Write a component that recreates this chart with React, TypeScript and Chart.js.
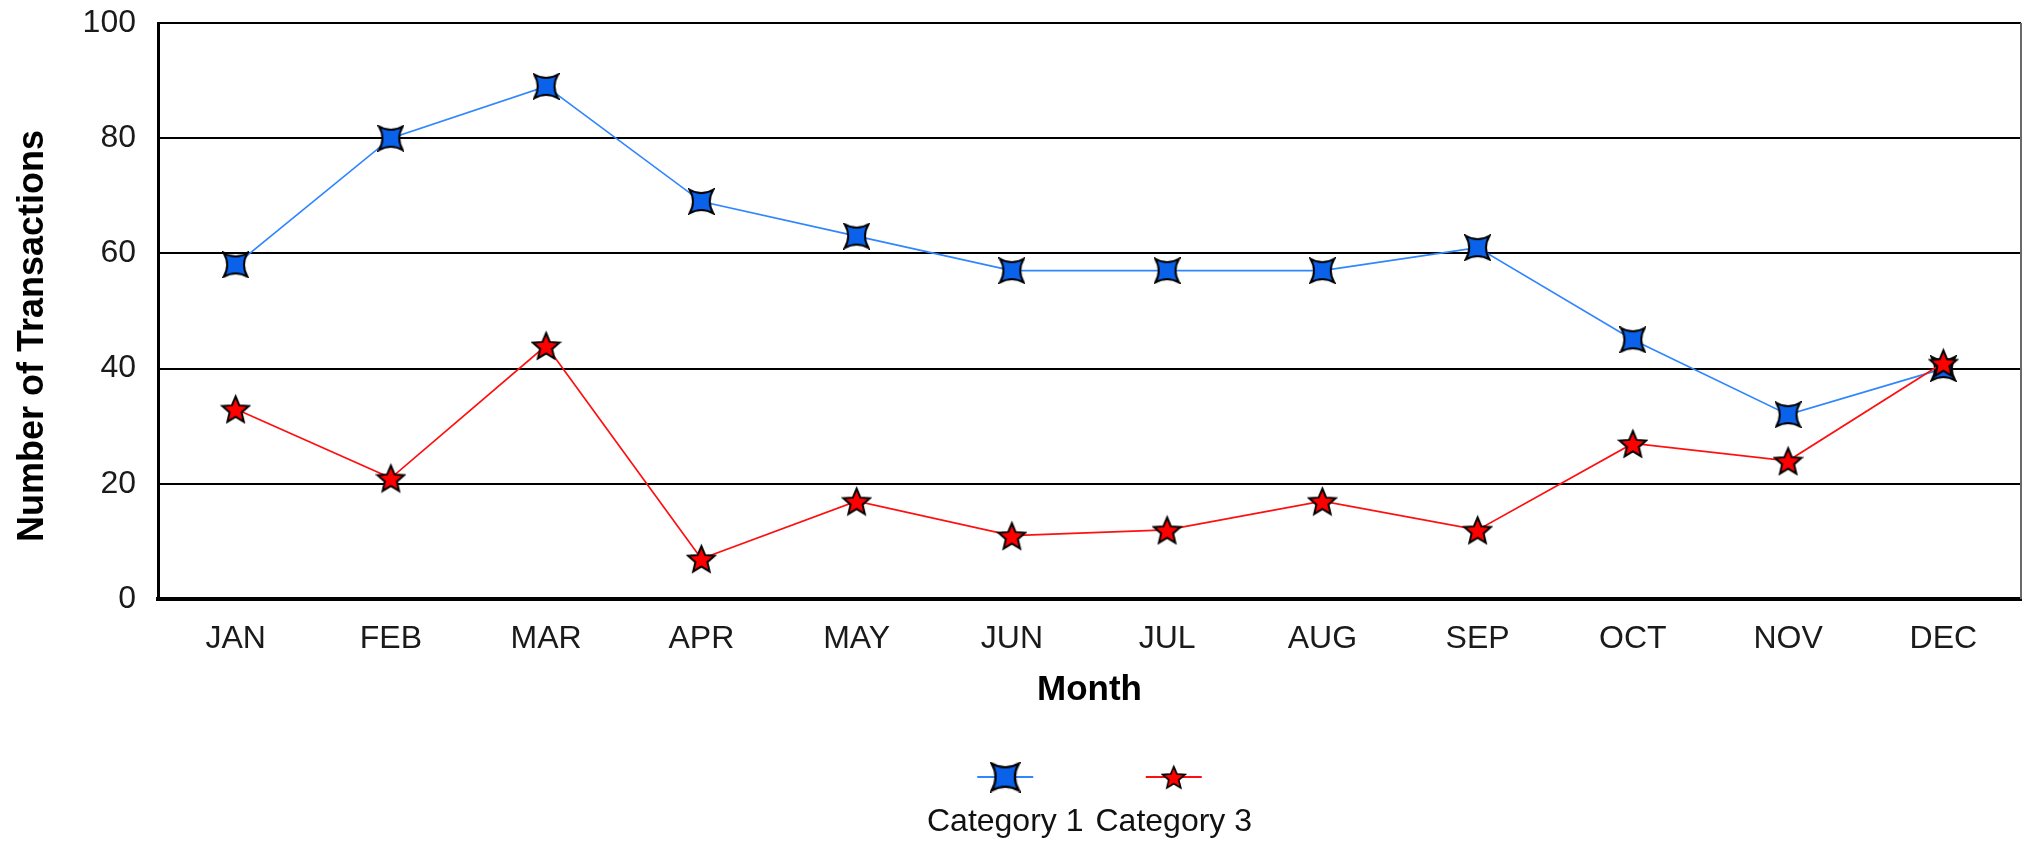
import React, { useEffect, useRef } from "react";
import { Chart, registerables } from "chart.js";

Chart.register(...registerables);

const months = ["JAN", "FEB", "MAR", "APR", "MAY", "JUN", "JUL", "AUG", "SEP", "OCT", "NOV", "DEC"];
const category1 = [58, 80, 89, 69, 63, 57, 57, 57, 61, 45, 32, 40];
const category3 = [33, 21, 44, 7, 17, 11, 12, 17, 12, 27, 24, 41];
const seriesNames = ["Category 1", "Category 3"];
const xTitle = "Month";
const yTitle = "Number of Transactions";
const yMin = 0;
const yMax = 100;
const yStep = 20;

const FONT = "'Liberation Sans', Arial, sans-serif";

function makeStar4(size: number, fill: string): HTMLCanvasElement {
  const c = document.createElement("canvas");
  c.width = size;
  c.height = size;
  const ctx = c.getContext("2d")!;
  const m = size / 2;
  const r = size / 2 - 1.5;
  const ri = r * 0.4;
  ctx.beginPath();
  ctx.moveTo(m - r, m - r);
  ctx.quadraticCurveTo(m, m - ri, m + r, m - r);
  ctx.quadraticCurveTo(m + ri, m, m + r, m + r);
  ctx.quadraticCurveTo(m, m + ri, m - r, m + r);
  ctx.quadraticCurveTo(m - ri, m, m - r, m - r);
  ctx.closePath();
  ctx.fillStyle = fill;
  ctx.fill();
  ctx.lineWidth = 2;
  ctx.strokeStyle = "#000";
  ctx.lineJoin = "miter";
  ctx.stroke();
  return c;
}

function makeStar5(size: number, fill: string): HTMLCanvasElement {
  const c = document.createElement("canvas");
  c.width = size;
  c.height = size;
  const ctx = c.getContext("2d")!;
  const m = size / 2;
  const R = size / 2 - 1.5;
  const ri = R * 0.45;
  ctx.beginPath();
  for (let i = 0; i < 10; i++) {
    const a = -Math.PI / 2 + (i * Math.PI) / 5;
    const rad = i % 2 === 0 ? R : ri;
    const x = m + rad * Math.cos(a);
    const y = m + 1.5 + rad * Math.sin(a);
    if (i === 0) ctx.moveTo(x, y);
    else ctx.lineTo(x, y);
  }
  ctx.closePath();
  ctx.fillStyle = fill;
  ctx.fill();
  ctx.lineWidth = 2;
  ctx.strokeStyle = "#000";
  ctx.stroke();
  return c;
}

const customPlugin = {
  id: "customDecor",
  beforeDatasetsDraw(chart: any) {
    const { ctx, chartArea } = chart;
    ctx.save();
    ctx.strokeStyle = "#6a6a6a";
    ctx.lineWidth = 2;
    ctx.beginPath();
    ctx.moveTo(chartArea.right, chartArea.top);
    ctx.lineTo(chartArea.right, chartArea.bottom);
    ctx.stroke();
    ctx.restore();
  },
  afterDraw(chart: any) {
    const { ctx, chartArea } = chart;
    ctx.save();
    // y axis title
    ctx.font = `bold 36px ${FONT}`;
    ctx.fillStyle = "#000";
    ctx.textAlign = "center";
    ctx.textBaseline = "alphabetic";
    ctx.translate(43, 336);
    ctx.rotate(-Math.PI / 2);
    ctx.fillText(yTitle, 0, 0);
    ctx.restore();

    // legend
    ctx.save();
    const ds = chart.data.datasets;
    ctx.font = `32px ${FONT}`;
    const widths = ds.map((d: any) => ctx.measureText(d.label).width);
    const gap = 12;
    const total = widths.reduce((a: number, b: number) => a + b, 0) + gap * (ds.length - 1);
    const cx = (chartArea.left + chartArea.right) / 2;
    let x = cx - total / 2;
    const markerY = chartArea.bottom + 178;
    const textY = chartArea.bottom + 223;
    ds.forEach((d: any, i: number) => {
      const c = x + widths[i] / 2;
      ctx.strokeStyle = d.borderColor;
      ctx.lineWidth = 2;
      ctx.beginPath();
      ctx.moveTo(c - 28, markerY);
      ctx.lineTo(c + 28, markerY);
      ctx.stroke();
      const img = d.pointStyle as HTMLCanvasElement;
      const s = i === 0 ? 31 : 26;
      ctx.drawImage(img, c - s / 2, markerY - s / 2, s, s);
      ctx.fillStyle = "#111";
      ctx.textAlign = "center";
      ctx.textBaseline = "middle";
      ctx.fillText(d.label, c, textY);
      x += widths[i] + gap;
    });
    ctx.restore();
  },
};

export default function App() {
  const canvasRef = useRef<HTMLCanvasElement | null>(null);

  useEffect(() => {
    if (!canvasRef.current) return;
    const blueMarker = makeStar4(27, "#0a62ea");
    const redMarker = makeStar5(31, "#ff0000");
    const chart = new Chart(canvasRef.current, {
      type: "line",
      data: {
        labels: months,
        datasets: [
          {
            label: seriesNames[0],
            data: category1,
            borderColor: "#2f86ff",
            backgroundColor: "#0a62ea",
            borderWidth: 1.7,
            pointStyle: blueMarker as any,
            pointRadius: 13,
            pointHoverRadius: 13,
            tension: 0,
            order: 1,
          },
          {
            label: seriesNames[1],
            data: category3,
            borderColor: "#ff1010",
            backgroundColor: "#ff0000",
            borderWidth: 1.7,
            pointStyle: redMarker as any,
            pointRadius: 15,
            pointHoverRadius: 15,
            tension: 0,
            order: 0,
          },
        ],
      },
      options: {
        responsive: false,
        animation: false,
        devicePixelRatio: 1,
        layout: { autoPadding: false, padding: { top: 23, right: 6, bottom: 130, left: 0 } },
        plugins: {
          legend: { display: false },
          tooltip: { enabled: false },
        },
        scales: {
          x: {
            type: "category",
            offset: true,
            grid: { display: false, drawTicks: false },
            border: { display: true, color: "#000", width: 4 },
            ticks: {
              color: "#1a1a1a",
              font: { family: FONT, size: 32 },
              padding: 21,
              maxRotation: 0,
              autoSkip: false,
            },
            title: {
              display: true,
              text: xTitle,
              color: "#000",
              font: { family: FONT, size: 35, weight: "bold" },
              padding: { top: 0, bottom: 0 },
            },
            afterFit: (scale: any) => {
              scale.height = 112;
              scale.paddingLeft = 0;
              scale.paddingRight = 0;
              scale.paddingTop = 0;
              scale.paddingBottom = 0;
            },
          },
          y: {
            min: yMin,
            max: yMax,
            ticks: {
              stepSize: yStep,
              color: "#1a1a1a",
              font: { family: FONT, size: 32 },
              padding: 22,
            },
            grid: { color: "#000", lineWidth: 2, drawTicks: false },
            border: { display: true, color: "#000", width: 3 },
            afterFit: (scale: any) => {
              scale.width = 158;
              scale.paddingTop = 0;
              scale.paddingBottom = 0;
              scale.paddingLeft = 0;
              scale.paddingRight = 0;
            },
          },
        },
      },
      plugins: [customPlugin],
    });
    return () => chart.destroy();
  }, []);

  return (
    <canvas
      ref={canvasRef}
      width={2027}
      height={841}
      style={{ position: "fixed", left: 0, top: 0, width: 2027, height: 841, background: "#fff" }}
    />
  );
}
